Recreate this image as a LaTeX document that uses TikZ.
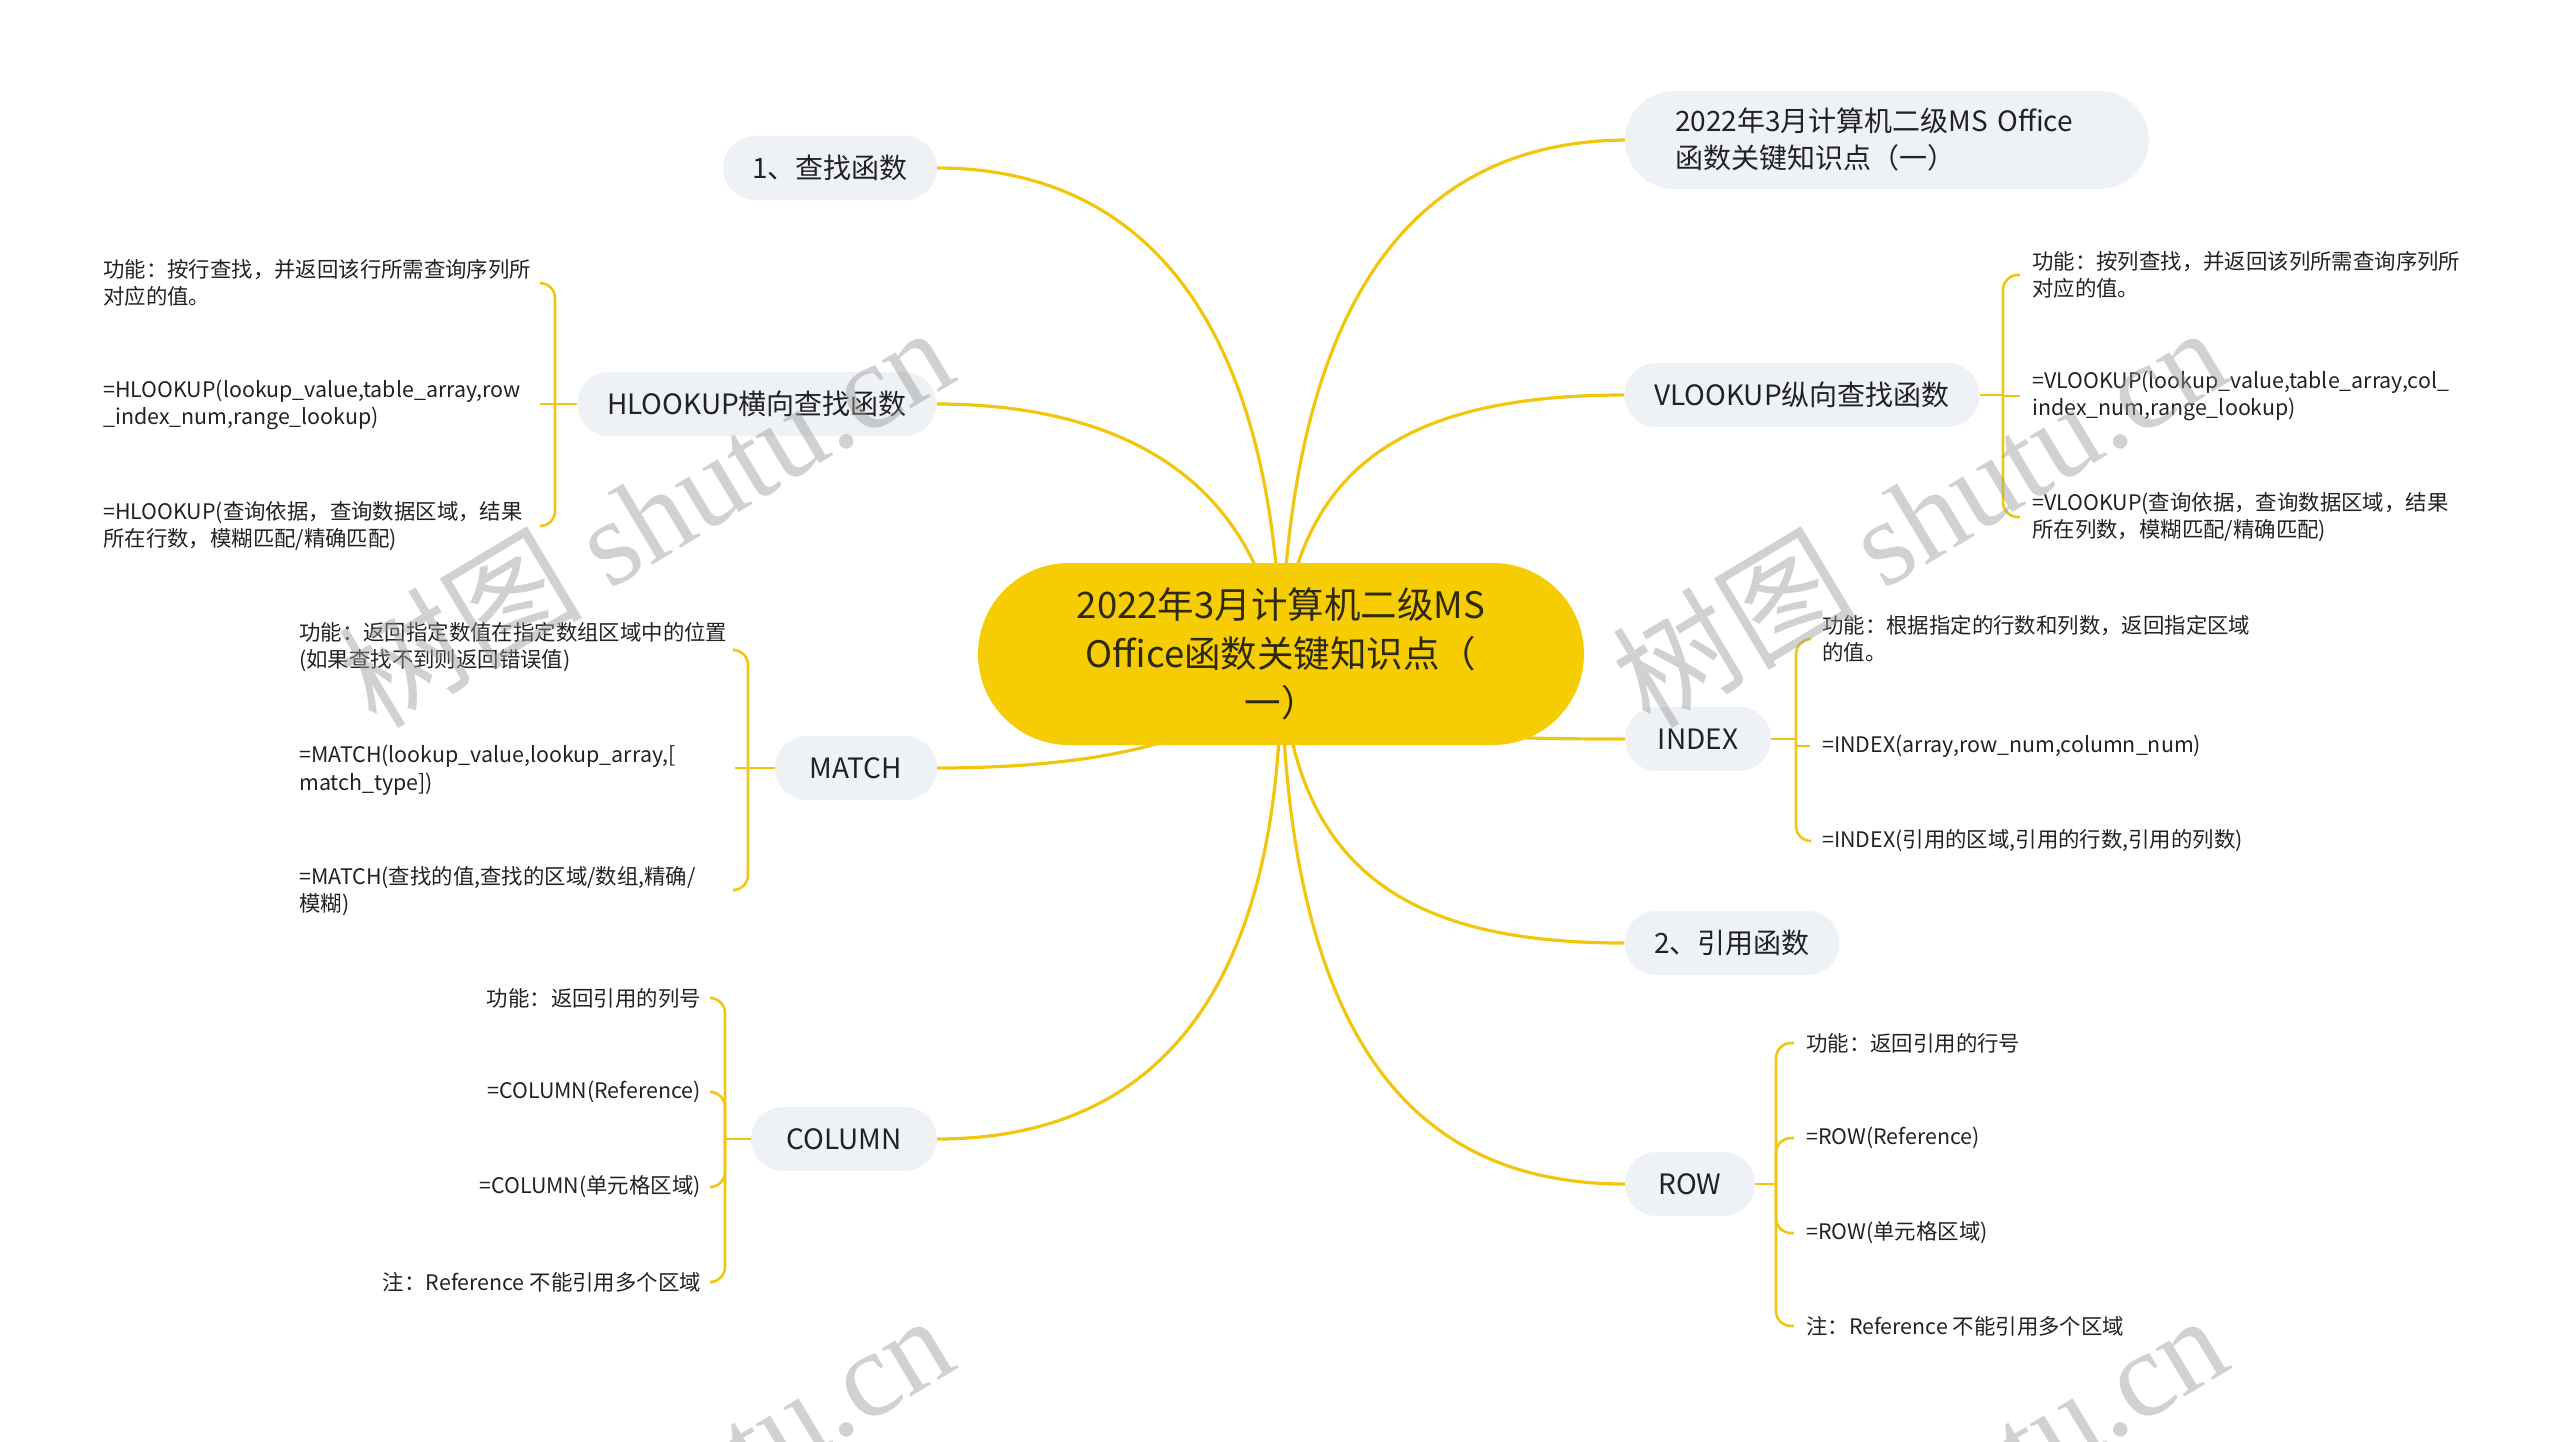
\documentclass[tikz,border=0pt]{standalone}
\usepackage{fontspec}
\setmainfont{Noto Sans CJK SC}
\newfontfamily\wmlat{Liberation Serif}
\usetikzlibrary{backgrounds}
\definecolor{cyel}{HTML}{F6CD02}
\definecolor{lyel}{HTML}{F2C60F}
\definecolor{bfill}{HTML}{EEF1F5}
\definecolor{tcol}{HTML}{222222}
\definecolor{ctcol}{HTML}{2E2A12}
\definecolor{wmcol}{HTML}{9A9A9A}
\tikzset{
 central/.style={fill=cyel, rounded corners=91pt, minimum width=606pt, minimum height=182pt, align=center, text=ctcol, font=\fontsize{36.5}{49}\selectfont, inner sep=0pt},
 branch/.style={fill=bfill, rounded corners=32pt, minimum height=64pt, inner xsep=20pt, inner ysep=0pt, text=tcol, font=\fontsize{28}{37}\selectfont},
 leaf/.style={inner xsep=12pt, inner ysep=2pt, align=left, text=tcol, font=\fontsize{21.4}{27.5}\selectfont},
 leafr/.style={leaf, align=right},
 mainline/.style={draw=lyel, line width=3.2pt},
 subline/.style={draw=lyel, line width=2.6pt, rounded corners=15pt},
 wm/.style={text=wmcol, opacity=0.45, rotate=31, font=\fontsize{122}{122}\selectfont}
}
\begin{document}
\begin{tikzpicture}[x=1pt,y=-1pt]
\useasboundingbox (0,0) rectangle (2560,1441);

% central
\node[central] (c) at (1281,654) {2022年3月计算机二级MS\\Office函数关键知识点（\\一）};

% branches left
\node[branch, minimum width=214pt] (b1) at (830,168) {1、查找函数};
\node[branch, minimum width=359pt] (bh) at (757,404) {HLOOKUP横向查找函数};
\node[branch, minimum width=162pt] (bm) at (856,768) {MATCH};
\node[branch, minimum width=186pt] (bc) at (844,1139) {COLUMN};
% branches right
\node[branch, minimum height=98pt, rounded corners=49pt, text width=424pt, inner xsep=50pt, align=left] (bt) at (1887,140) {2022年3月计算机二级MS Office\\函数关键知识点（一）};
\node[branch, minimum width=355pt] (bv) at (1802,395) {VLOOKUP纵向查找函数};
\node[branch, minimum width=146pt] (bi) at (1698,739) {INDEX};
\node[branch, minimum width=215pt] (b2) at (1732,943) {2、引用函数};
\node[branch, minimum width=130pt] (br) at (1690,1184) {ROW};

% main connectors
\begin{scope}[on background layer]
\draw[mainline] (c.center) .. controls (1275,330) and (1150,168) .. (b1.east);
\draw[mainline] (c.center) .. controls (1250,450) and (1080,404) .. (bh.east);
\draw[mainline] (c.center) .. controls (1250,740) and (1100,768) .. (bm.east);
\draw[mainline] (c.center) .. controls (1285,1000) and (1150,1139) .. (bc.east);
\draw[mainline] (c.center) .. controls (1290,320) and (1400,142) .. (bt.west);
\draw[mainline] (c.center) .. controls (1295,470) and (1400,395) .. (bv.west);
\draw[mainline] (c.center) .. controls (1350,735) and (1450,739) .. (bi.west);
\draw[mainline] (c.center) .. controls (1290,880) and (1420,943) .. (b2.west);
\draw[mainline] (c.center) .. controls (1285,1050) and (1420,1184) .. (br.west);
\end{scope}

% HLOOKUP leaves
\node[leaf, anchor=west] (h1) at (91,283) {功能：按行查找，并返回该行所需查询序列所\\对应的值。};
\node[leaf, anchor=west] (h2) at (91,405) {=HLOOKUP(lookup\_value,table\_array,row\\\_index\_num,range\_lookup)};
\node[leaf, anchor=west] (h3) at (91,526) {=HLOOKUP(查询依据，查询数据区域，结果\\所在行数，模糊匹配/精确匹配)};
\coordinate (jh) at (555,404);
\coordinate (h1e) at (540,283);
\coordinate (h2e) at (540,404);
\coordinate (h3e) at (540,526);
\draw[subline] (bh.west) -- (jh);
\draw[subline] (jh) |- (h1e);
\draw[subline] (jh) -- (h2e);
\draw[subline] (jh) |- (h3e);

% MATCH leaves
\node[leaf, anchor=west] (m1) at (287,647) {功能：返回指定数值在指定数组区域中的位置\\(如果查找不到则返回错误值)};
\node[leaf, anchor=west] (m2) at (287,770) {=MATCH(lookup\_value,lookup\_array,[\\match\_type])};
\node[leaf, anchor=west] (m3) at (287,891) {=MATCH(查找的值,查找的区域/数组,精确/\\模糊)};
\coordinate (jm) at (748,768);
\coordinate (m1e) at (735,650);
\coordinate (m2e) at (735,768);
\coordinate (m3e) at (735,890);
\draw[subline] (bm.west) -- (jm);
\draw[subline] (jm) |- (m1e);
\draw[subline] (jm) -- (m2e);
\draw[subline] (jm) |- (m3e);

% COLUMN leaves
\node[leafr, anchor=east] (c1) at (713,998) {功能：返回引用的列号};
\node[leafr, anchor=east] (c2) at (713,1092) {=COLUMN(Reference)};
\node[leafr, anchor=east] (c3) at (713,1187) {=COLUMN(单元格区域)};
\node[leafr, anchor=east] (c4) at (713,1282) {注：Reference 不能引用多个区域};
\coordinate (jc) at (725,1139);
\draw[subline] (bc.west) -- (jc);
\draw[subline] (jc) |- (c1.east);
\draw[subline] (jc) |- (c2.east);
\draw[subline] (jc) |- (c3.east);
\draw[subline] (jc) |- (c4.east);

% VLOOKUP leaves
\node[leaf, anchor=west] (v1) at (2020,275) {功能：按列查找，并返回该列所需查询序列所\\对应的值。};
\node[leaf, anchor=west] (v2) at (2020,396) {=VLOOKUP(lookup\_value,table\_array,col\_\\index\_num,range\_lookup)};
\node[leaf, anchor=west] (v3) at (2020,517) {=VLOOKUP(查询依据，查询数据区域，结果\\所在列数，模糊匹配/精确匹配)};
\coordinate (jv) at (2003,395);
\draw[subline] (bv.east) -- (jv);
\draw[subline] (jv) |- (v1.west);
\draw[subline] (jv |- v2.west) -- (v2.west);
\draw[subline] (jv) |- (v3.west);

% INDEX leaves
\node[leaf, anchor=west] (i1) at (1810,639) {功能：根据指定的行数和列数，返回指定区域\\的值。};
\node[leaf, anchor=west] (i2) at (1810,746) {=INDEX(array,row\_num,column\_num)};
\node[leaf, anchor=west] (i3) at (1810,841) {=INDEX(引用的区域,引用的行数,引用的列数)};
\coordinate (ji) at (1796,739);
\draw[subline] (bi.east) -- (ji);
\draw[subline] (ji) |- (i1.west);
\draw[subline] (ji |- i2.west) -- (i2.west);
\draw[subline] (ji) |- (i3.west);

% ROW leaves
\node[leaf, anchor=west] (r1) at (1794,1043) {功能：返回引用的行号};
\node[leaf, anchor=west] (r2) at (1794,1138) {=ROW(Reference)};
\node[leaf, anchor=west] (r3) at (1794,1233) {=ROW(单元格区域)};
\node[leaf, anchor=west] (r4) at (1794,1326) {注：Reference 不能引用多个区域};
\coordinate (jr) at (1776,1184);
\draw[subline] (br.east) -- (jr);
\draw[subline] (jr) |- (r1.west);
\draw[subline] (jr) |- (r2.west);
\draw[subline] (jr) |- (r3.west);
\draw[subline] (jr) |- (r4.west);

% watermarks
\begin{scope}
\clip (0,0) rectangle (2560,1441);
\node[wm] (wm1) at (645,515) {树图 {\wmlat shutu.cn}};
\node[wm] (wm2) at (1919,515) {树图 {\wmlat shutu.cn}};
\node[wm] (wm3) at (645,1503) {树图 {\wmlat shutu.cn}};
\node[wm] (wm4) at (1919,1503) {树图 {\wmlat shutu.cn}};
\end{scope}
\end{tikzpicture}
\end{document}
